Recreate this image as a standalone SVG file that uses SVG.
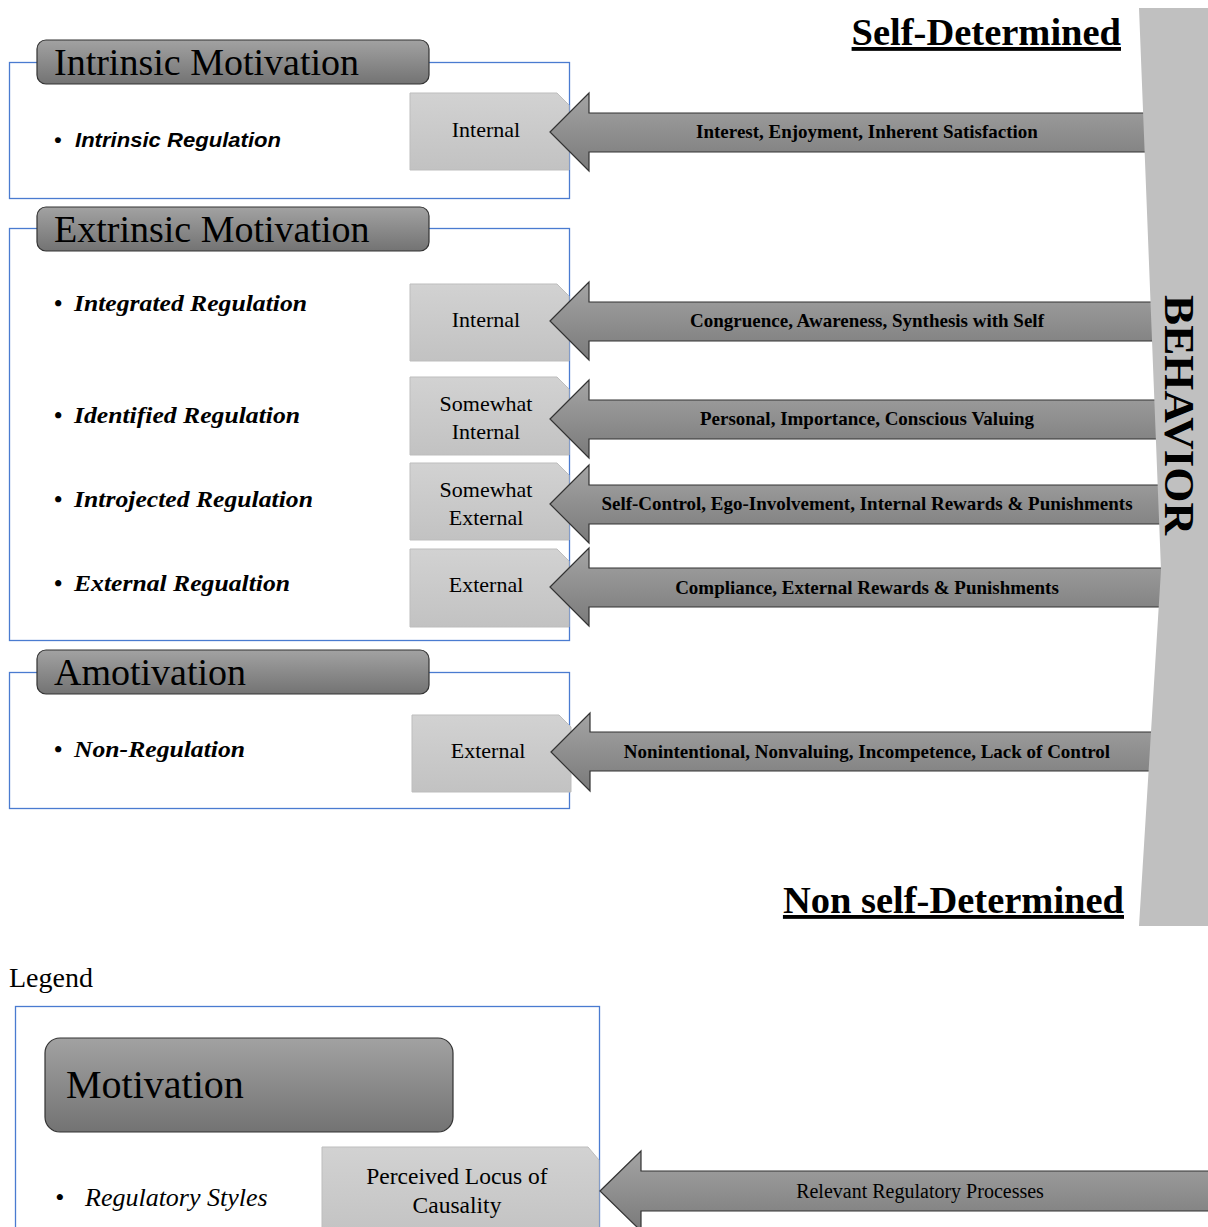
<svg xmlns="http://www.w3.org/2000/svg" width="1208" height="1227" viewBox="0 0 1208 1227">
<defs>
<linearGradient id="hdr" x1="0" y1="0" x2="0" y2="1"><stop offset="0" stop-color="#a2a2a2"/><stop offset="1" stop-color="#737373"/></linearGradient>
<linearGradient id="arr" x1="0" y1="0" x2="0" y2="1"><stop offset="0" stop-color="#a4a4a4"/><stop offset="1" stop-color="#7a7a7a"/></linearGradient>
<linearGradient id="box" x1="0" y1="0" x2="0" y2="1"><stop offset="0" stop-color="#d2d2d2"/><stop offset="1" stop-color="#c2c2c2"/></linearGradient>
</defs>
<style>
.frame{fill:#fff;stroke:#4a7bd0;stroke-width:1.3}
.hdr{fill:url(#hdr);stroke:#333;stroke-width:1.2}
.arr{fill:url(#arr);stroke:#333;stroke-width:1.2}
.box{fill:url(#box);stroke:#bdbdbd;stroke-width:1}
.serif{font-family:"Liberation Serif","Times New Roman",serif;fill:#000}
.h{font-size:38px}
.bul{font-size:23px;font-weight:bold;font-style:italic}
.lbl{font-size:22px;text-anchor:middle}
.at{font-size:19px;font-weight:bold;text-anchor:middle}
.ttl{font-size:38.5px;font-weight:bold;text-decoration:underline}
</style>
<rect width="1208" height="1227" fill="#fff"/>

<g id="intrinsic">
<rect class="frame" x="9.5" y="62.5" width="560" height="136"/>
<rect class="hdr" x="37" y="40" width="392" height="44" rx="9"/>
<text class="serif h" x="54" y="75">Intrinsic Motivation</text>
<text font-family="Liberation Sans, Arial, sans-serif" font-size="21" font-weight="bold" font-style="italic"><tspan x="54" y="147">•</tspan><tspan x="75" y="147" textLength="206" lengthAdjust="spacingAndGlyphs">Intrinsic Regulation</tspan></text>
</g>
<g id="extrinsic">
<rect class="frame" x="9.5" y="228.5" width="560" height="412"/>
<rect class="hdr" x="37" y="207" width="392" height="44" rx="9"/>
<text class="serif h" x="54" y="242">Extrinsic Motivation</text>
<text class="serif bul"><tspan x="54" y="311">•</tspan><tspan x="74" y="311" textLength="233" lengthAdjust="spacingAndGlyphs">Integrated Regulation</tspan></text>
<text class="serif bul"><tspan x="54" y="423">•</tspan><tspan x="74" y="423" textLength="226" lengthAdjust="spacingAndGlyphs">Identified Regulation</tspan></text>
<text class="serif bul"><tspan x="54" y="507">•</tspan><tspan x="74" y="507" textLength="239" lengthAdjust="spacingAndGlyphs">Introjected Regulation</tspan></text>
<text class="serif bul"><tspan x="54" y="591">•</tspan><tspan x="74" y="591" textLength="216" lengthAdjust="spacingAndGlyphs">External Regualtion</tspan></text>
</g>
<g id="amotivation">
<rect class="frame" x="9.5" y="672.5" width="560" height="136"/>
<rect class="hdr" x="37" y="650" width="392" height="44" rx="9"/>
<text class="serif h" x="54" y="685">Amotivation</text>
<text class="serif bul"><tspan x="54" y="757">•</tspan><tspan x="74" y="757" textLength="171" lengthAdjust="spacingAndGlyphs">Non-Regulation</tspan></text>
</g>

<g id="locus-boxes">
<g id="box1"><path class="box" d="M410,93 H557 L569,105 V170 H410 Z"/><text class="serif lbl" x="486" y="137">Internal</text></g>
<g id="box2"><path class="box" d="M410,284 H557 L569,296 V361 H410 Z"/><text class="serif lbl" x="486" y="327">Internal</text></g>
<g id="box3"><path class="box" d="M410,377 H557 L569,389 V455 H410 Z"/><text class="serif lbl" x="486" y="411">Somewhat</text><text class="serif lbl" x="486" y="439">Internal</text></g>
<g id="box4"><path class="box" d="M410,463 H557 L569,475 V540 H410 Z"/><text class="serif lbl" x="486" y="497">Somewhat</text><text class="serif lbl" x="486" y="525">External</text></g>
<g id="box5"><path class="box" d="M410,549 H557 L569,561 V627 H410 Z"/><text class="serif lbl" x="486" y="592">External</text></g>
<g id="box6"><path class="box" d="M412,715 H559 L571,727 V792 H412 Z"/><text class="serif lbl" x="488" y="758">External</text></g>
</g>

<g id="connectors">
<path class="arr" d="M550,132 L589,93 V113 H1170 V152 H589 V171 Z"/>
<path class="arr" d="M550,321 L589,282 V302 H1170 V341 H589 V360 Z"/>
<path class="arr" d="M550,419 L589,380 V400 H1170 V439 H589 V458 Z"/>
<path class="arr" d="M550,504 L589,465 V485 H1170 V524 H589 V543 Z"/>
<path class="arr" d="M550,587 L589,548 V568 H1170 V607 H589 V626 Z"/>
<path class="arr" d="M551,752 L590,713 V732 H1170 V771 H590 V791 Z"/>
<text class="serif at" x="867" y="138">Interest, Enjoyment, Inherent Satisfaction</text>
<text class="serif at" x="867" y="327">Congruence, Awareness, Synthesis with Self</text>
<text class="serif at" x="867" y="425">Personal, Importance, Conscious Valuing</text>
<text class="serif at" x="867" y="510">Self-Control, Ego-Involvement, Internal Rewards &amp; Punishments</text>
<text class="serif at" x="867" y="594">Compliance, External Rewards &amp; Punishments</text>
<text class="serif at" x="867" y="758">Nonintentional, Nonvaluing, Incompetence, Lack of Control</text>
</g>

<g id="behavior">
<path d="M1139,8 H1208 V926 H1139 L1161,570 Z" fill="#c0c0c0"/>
<text class="serif" transform="translate(1165,415) rotate(90)" font-size="42" font-weight="bold" text-anchor="middle" textLength="240" lengthAdjust="spacingAndGlyphs">BEHAVIOR</text>
</g>
<text class="serif ttl" x="1121" y="45" text-anchor="end">Self-Determined</text>
<text class="serif ttl" x="1124" y="913" text-anchor="end">Non self-Determined</text>

<g id="legend">
<text class="serif" x="9" y="987" font-size="28">Legend</text>
<rect class="frame" x="15.5" y="1006.5" width="584" height="240"/>
<rect class="hdr" x="45" y="1038" width="408" height="94" rx="15"/>
<text class="serif" x="66" y="1098" font-size="40">Motivation</text>
<text class="serif" font-size="26" font-style="italic"><tspan x="55" y="1206">•</tspan><tspan x="85" y="1206">Regulatory Styles</tspan></text>
<path class="box" d="M322,1147 H588 L599,1160 V1240 H322 Z"/>
<text class="serif" x="457" y="1184" font-size="23.5" text-anchor="middle">Perceived Locus of</text>
<text class="serif" x="457" y="1213" font-size="23.5" text-anchor="middle">Causality</text>
<path class="arr" d="M600,1191 L641,1151 V1171 H1215 V1211 H641 V1231 Z"/>
<text class="serif" x="920" y="1198" font-size="20" text-anchor="middle">Relevant Regulatory Processes</text>
</g>
</svg>
